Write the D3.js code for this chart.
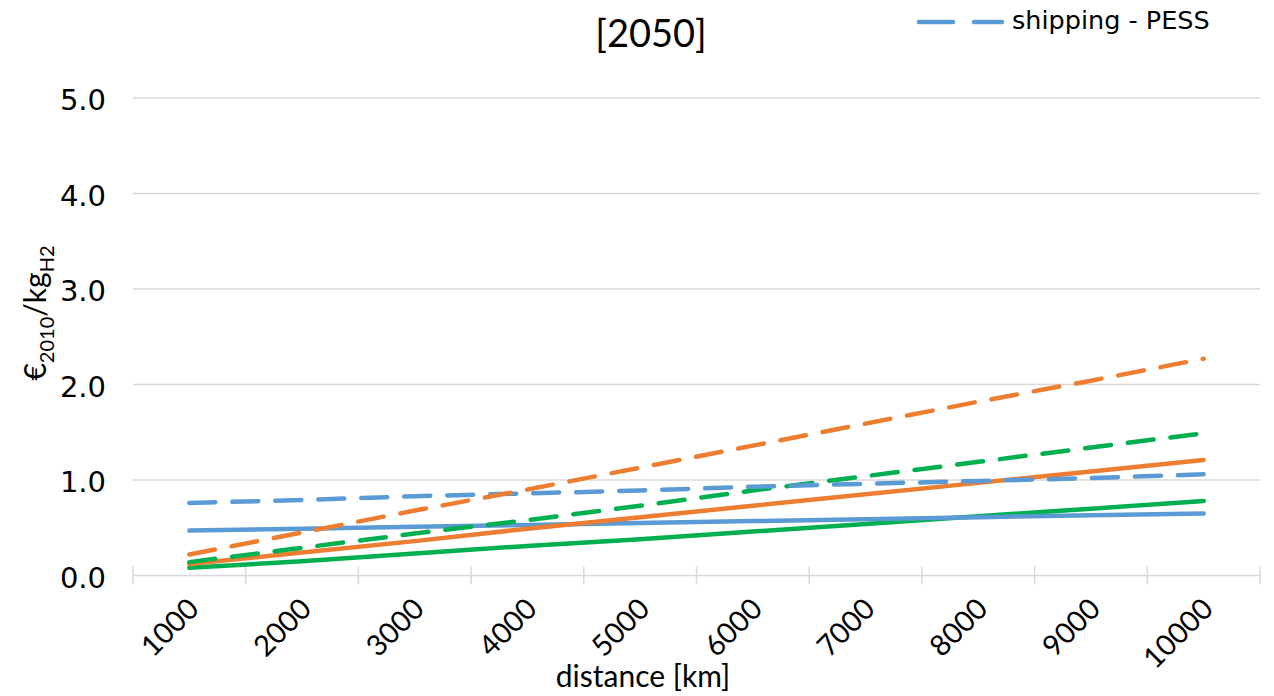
<!DOCTYPE html>
<html>
<head>
<meta charset="utf-8">
<script src="https://cdn.jsdelivr.net/npm/d3@7/dist/d3.min.js"></script>
<style>
  body { margin: 0; background: #fff; }
  svg { display: block; }
</style>
</head>
<body>
<div id="chart"></div>
<script>
// Дані
const distances = ["1000", "2000", "3000", "4000", "5000", "6000", "7000", "8000", "9000", "10000"];
const yTicks = [0, 1, 2, 3, 4, 5];

const orangeDashed = [0.22, 0.45, 0.68, 0.90, 1.13, 1.36, 1.59, 1.82, 2.04, 2.27];
const greenDashed  = [0.14, 0.29, 0.44, 0.58, 0.73, 0.89, 1.04, 1.19, 1.34, 1.49];
const blueDashed   = [0.76, 0.79, 0.83, 0.86, 0.89, 0.93, 0.96, 0.99, 1.02, 1.06];
const orangeSolid  = [0.12, 0.24, 0.36, 0.49, 0.61, 0.73, 0.85, 0.97, 1.09, 1.21];
const greenSolid   = [0.08, 0.15, 0.23, 0.31, 0.38, 0.46, 0.54, 0.62, 0.70, 0.78];
const blueSolid    = [0.47, 0.49, 0.51, 0.53, 0.55, 0.57, 0.59, 0.61, 0.63, 0.65];

const series = [
  { name: "pipeline - OPT", values: greenSolid, color: "#00B050", dashed: false },
  { name: "blue - OPT", values: blueSolid, color: "#5B9BD5", dashed: false },
  { name: "orange - OPT", values: orangeSolid, color: "#ED7D31", dashed: false },
  { name: "green - PESS", values: greenDashed, color: "#00B050", dashed: true },
  { name: "shipping - PESS", values: blueDashed, color: "#5B9BD5", dashed: true },
  { name: "orange - PESS", values: orangeDashed, color: "#ED7D31", dashed: true }
];

const width = 1274, height = 696;
const plotLeft = 133, plotRight = 1260, plotTop = 98, plotBottom = 575.5;
const dash = "26,17";

const svg = d3.select("#chart").append("svg")
  .attr("width", width)
  .attr("height", height);

const x = d3.scaleBand().domain(distances).range([plotLeft, plotRight]).padding(0);
const y = d3.scaleLinear().domain([0, 5]).range([plotBottom, plotTop]);

// Сітка
svg.append("g")
  .selectAll("line")
  .data(yTicks.filter(d => d > 0))
  .enter().append("line")
  .attr("x1", plotLeft).attr("x2", plotRight)
  .attr("y1", d => y(d)).attr("y2", d => y(d))
  .attr("stroke", "#d9d9d9")
  .attr("stroke-width", 1.5);

// Вісь X
const xAxis = svg.append("g")
  .attr("transform", `translate(0,${plotBottom})`);
xAxis.append("line")
  .attr("x1", plotLeft).attr("x2", plotRight)
  .attr("stroke", "#d9d9d9").attr("stroke-width", 1.5);
const boundaries = distances.map(d => x(d)).concat([plotRight]);
xAxis.selectAll(".tick-mark")
  .data(boundaries)
  .enter().append("line")
  .attr("x1", d => d).attr("x2", d => d)
  .attr("y1", -9).attr("y2", 9)
  .attr("stroke", "#d9d9d9").attr("stroke-width", 1.5);

xAxis.selectAll(".xlabel")
  .data(distances)
  .enter().append("text")
  .attr("transform", d => `translate(${x(d) + x.bandwidth() / 2 + 4},${28}) rotate(-45)`)
  .attr("text-anchor", "end")
  .attr("dy", "0.35em")
  .style("font-family", "Lato, 'Open Sans', sans-serif")
  .style("font-size", "29px")
  .style("fill", "#000")
  .text(d => d);

// Підписи осі Y
svg.append("g")
  .selectAll("text")
  .data(yTicks)
  .enter().append("text")
  .attr("x", 106)
  .attr("y", d => y(d))
  .attr("dy", "0.42em")
  .attr("text-anchor", "end")
  .style("font-family", "'DejaVu Sans', sans-serif")
  .style("font-size", "29px")
  .style("fill", "#000")
  .text(d => d.toFixed(1));

// Лінії
const line = d3.line()
  .x((d, i) => x(distances[i]) + x.bandwidth() / 2)
  .y(d => y(d));

svg.append("g")
  .selectAll("path")
  .data(series)
  .enter().append("path")
  .attr("d", d => line(d.values))
  .attr("fill", "none")
  .attr("stroke", d => d.color)
  .attr("stroke-width", 4.5)
  .attr("stroke-linecap", "round")
  .attr("stroke-linejoin", "round")
  .attr("stroke-dasharray", d => d.dashed ? dash : null);

// Заголовок
svg.append("text")
  .attr("x", 651)
  .attr("y", 47)
  .attr("text-anchor", "middle")
  .style("font-family", "Lato, 'Open Sans', sans-serif")
  .style("font-size", "38px")
  .text("[2050]");

// Легенда (видно лише один запис)
const legend = svg.append("g");
legend.append("line")
  .attr("x1", 919).attr("x2", 1002)
  .attr("y1", 22).attr("y2", 22)
  .attr("stroke", "#5B9BD5")
  .attr("stroke-width", 4.5)
  .attr("stroke-linecap", "round")
  .attr("stroke-dasharray", "34,21");
legend.append("text")
  .attr("x", 1012)
  .attr("y", 29)
  .style("font-family", "'DejaVu Sans', sans-serif")
  .style("font-size", "25.5px")
  .text("shipping - PESS");

// Назва осі X
svg.append("text")
  .attr("x", 643)
  .attr("y", 687)
  .attr("text-anchor", "middle")
  .style("font-family", "Lato, 'Open Sans', sans-serif")
  .style("font-size", "30px")
  .text("distance [km]");

// Назва осі Y
const yTitle = svg.append("text")
  .attr("transform", "translate(46,313) rotate(-90)")
  .attr("text-anchor", "middle")
  .style("font-family", "Lato, 'Open Sans', sans-serif")
  .style("font-size", "30px");
yTitle.append("tspan").text("€");
yTitle.append("tspan").attr("dy", 8).style("font-size", "20px").text("2010");
yTitle.append("tspan").attr("dy", -8).text("/kg");
yTitle.append("tspan").attr("dy", 8).style("font-size", "20px").text("H2");
</script>
</body>
</html>
